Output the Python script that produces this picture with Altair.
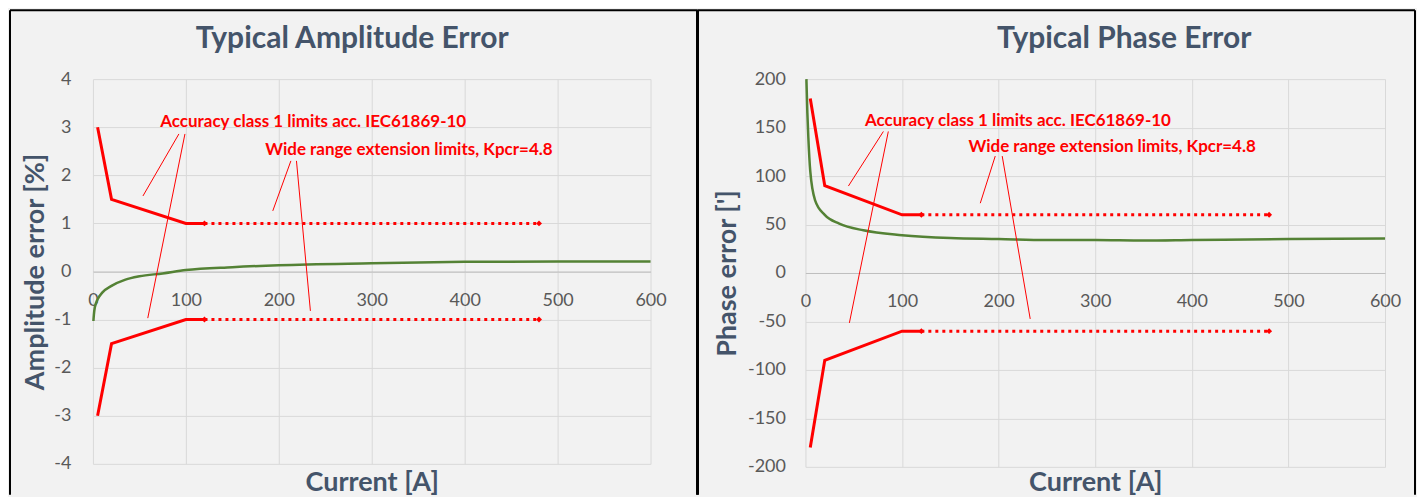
import altair as alt
import pandas as pd

FONT = "Lato"
RED = "#ff0000"
GREEN = "#548235"
TITLE_COL = "#44546a"
LABEL_COL = "#595959"

# ---------------- Amplitude panel data ----------------
amp_curve_x = [0.5, 1, 2, 5, 10, 20, 35, 50, 75, 100, 150, 200, 300, 400, 500, 600]
amp_curve_y = [-1.03, -0.9, -0.75, -0.58, -0.44, -0.3, -0.17, -0.1, -0.04, 0.03, 0.09, 0.13, 0.17, 0.2, 0.21, 0.21]
amp_limit_x = [5, 20, 100, 120]
amp_limit_y = [3, 1.5, 1, 1]
amp_ext_x = [120, 480]
amp_ext_y = [1, 1]
amp_ann_text = ["Accuracy class 1 limits acc. IEC61869-10", "Wide range extension limits, Kpcr=4.8"]
amp_ann_x = [237, 340]
amp_ann_y = [3.11, 2.52]
amp_lead_x = [92.5, 99, 213, 219]
amp_lead_y = [2.86, 2.86, 2.30, 2.30]
amp_lead_x2 = [53.8, 59, 193.5, 234]
amp_lead_y2 = [1.57, -0.97, 1.26, -0.82]
amp_y_ticks = [-4, -3, -2, -1, 0, 1, 2, 3, 4]

# ---------------- Phase panel data ----------------
ph_curve_x = [1, 2, 3, 5, 10, 20, 35, 60, 100, 150, 200, 250, 300, 350, 400, 500, 600]
ph_curve_y = [200, 165, 140, 105, 75, 60, 51, 44, 39, 36, 35, 34, 34, 33.5, 34, 35, 35.5]
ph_limit_x = [5, 20, 100, 120]
ph_limit_y = [180, 90, 60, 60]
ph_ext_x = [120, 480]
ph_ext_y = [60, 60]
ph_ann_text = ["Accuracy class 1 limits acc. IEC61869-10", "Wide range extension limits, Kpcr=4.8"]
ph_ann_x = [220, 317.5]
ph_ann_y = [157, 130]
ph_lead_x = [80.7, 85.8, 196.5, 203.7]
ph_lead_y = [146, 146, 120.6, 120.6]
ph_lead_x2 = [44.5, 45.5, 181, 232.7]
ph_lead_y2 = [89.7, -51.5, 72, -47.4]
ph_y_ticks = [-200, -150, -100, -50, 0, 50, 100, 150, 200]

x_ticks = [0, 100, 200, 300, 400, 500, 600]


def panel(curve_x, curve_y, lim_x, lim_y, ext_x, ext_y, ann_text, ann_x, ann_y,
          lead_x, lead_y, lead_x2, lead_y2, y_ticks, w, h, ytitle, title, title_cx,
          ytitle_x, ylab_pad, xtitle_y, left_bx, right_bx, right_bw):
    xs = alt.Scale(domain=[0, 600], nice=False, zero=False)
    ys = alt.Scale(domain=[y_ticks[0], y_ticks[-1]], nice=False, zero=False)

    curve = pd.DataFrame({"x": curve_x, "y": curve_y})
    lim = pd.DataFrame({
        "x": lim_x + lim_x,
        "y": lim_y + [-v for v in lim_y],
        "side": ["up"] * len(lim_x) + ["low"] * len(lim_x),
    })
    ext = pd.DataFrame({
        "x": ext_x + ext_x,
        "y": ext_y + [-v for v in ext_y],
        "side": ["up"] * len(ext_x) + ["low"] * len(ext_x),
    })
    ann = pd.DataFrame({"x": ann_x, "y": ann_y, "t": ann_text})
    lead = pd.DataFrame({"x": lead_x, "y": lead_y, "x2": lead_x2, "y2": lead_y2})
    one = pd.DataFrame({"a": [0]})
    ttl = pd.DataFrame({"t": [title]})

    x_axis = alt.Axis(
        values=x_ticks, title="Current [A]", offset=-h / 2, ticks=False, tickSize=0,
        domain=True, domainColor="#bfbfbf", domainWidth=1,
        grid=True, gridColor="#d9d9d9", gridWidth=1,
        labelFont=FONT, labelFontSize=18, labelColor=LABEL_COL, labelPadding=20,
        labelFlush=False, labelOverlap=False, labelExpr="'' + datum.value",
        titleFont=FONT, titleFontSize=27, titleFontWeight="bold", titleColor=TITLE_COL,
        titleX=w / 2, titleY=xtitle_y, titleBaseline="alphabetic", titleAlign="center",
    )
    y_axis = alt.Axis(
        values=y_ticks, title=ytitle, ticks=False, tickSize=0, domain=False,
        grid=True, gridColor="#d9d9d9", gridWidth=1,
        labelFont=FONT, labelFontSize=18, labelColor=LABEL_COL, labelPadding=ylab_pad,
        labelFlush=False, labelOverlap=False, labelExpr="'' + datum.value",
        titleFont=FONT, titleFontSize=27, titleFontWeight="bold", titleColor=TITLE_COL,
        titleX=ytitle_x, titleY=h / 2, titleBaseline="middle", titleAlign="center", titleAngle=270,
    )

    base_green = alt.Chart(curve).mark_line(color=GREEN, strokeWidth=2.5, interpolate="monotone").encode(
        x=alt.X("x:Q", scale=xs, axis=x_axis),
        y=alt.Y("y:Q", scale=ys, axis=y_axis),
    )
    lim_line = alt.Chart(lim).mark_line(color=RED, strokeWidth=3).encode(
        x=alt.X("x:Q", scale=xs), y=alt.Y("y:Q", scale=ys), detail="side:N"
    )
    ext_line = alt.Chart(ext).mark_line(color=RED, strokeWidth=3, strokeDash=[3, 4]).encode(
        x=alt.X("x:Q", scale=xs), y=alt.Y("y:Q", scale=ys), detail="side:N"
    )
    ext_pts = alt.Chart(ext).mark_point(shape="diamond", filled=True, color=RED, size=35, opacity=1).encode(
        x=alt.X("x:Q", scale=xs), y=alt.Y("y:Q", scale=ys)
    )
    leaders = alt.Chart(lead).mark_rule(color=RED, strokeWidth=1).encode(
        x=alt.X("x:Q", scale=xs), y=alt.Y("y:Q", scale=ys), x2="x2:Q", y2="y2:Q"
    )
    texts = alt.Chart(ann).mark_text(
        font=FONT, fontSize=17, fontWeight="bold", color=RED, align="center", baseline="middle"
    ).encode(x=alt.X("x:Q", scale=xs), y=alt.Y("y:Q", scale=ys), text="t:N")

    title_mark = alt.Chart(ttl).mark_text(
        font=FONT, fontSize=30, fontWeight="bold", color=TITLE_COL, align="center", baseline="alphabetic"
    ).encode(x=alt.value(title_cx), y=alt.value(-31), text="t:N")

    top_rule = alt.Chart(one).mark_rule(color="#000000", strokeWidth=2).encode(
        x=alt.value(left_bx), x2=alt.value(right_bx), y=alt.value(-69)
    )
    left_rule = alt.Chart(one).mark_rule(color="#000000", strokeWidth=2).encode(
        x=alt.value(left_bx), y=alt.value(-69), y2=alt.value(416)
    )
    right_rule = alt.Chart(one).mark_rule(color="#000000", strokeWidth=right_bw).encode(
        x=alt.value(right_bx), y=alt.value(-69), y2=alt.value(416)
    )

    return alt.layer(
        base_green, lim_line, ext_line, ext_pts, leaders, texts, title_mark,
        top_rule, left_rule, right_rule
    ).properties(width=w, height=h)


left = panel(amp_curve_x, amp_curve_y, amp_limit_x, amp_limit_y, amp_ext_x, amp_ext_y,
             amp_ann_text, amp_ann_x, amp_ann_y, amp_lead_x, amp_lead_y, amp_lead_x2, amp_lead_y2,
             amp_y_ticks, 558, 385, "Amplitude error [%]", "Typical Amplitude Error", 259.5,
             -57, 22, 219.5, -83, 605, 3)

right = panel(ph_curve_x, ph_curve_y, ph_limit_x, ph_limit_y, ph_ext_x, ph_ext_y,
              ph_ann_text, ph_ann_x, ph_ann_y, ph_lead_x, ph_lead_y, ph_lead_x2, ph_lead_y2,
              ph_y_ticks, 580, 388, "Phase error [']", "Typical Phase Error", 319,
              -78, 20, 218, -108, 610, 2)

chart = alt.hconcat(left, right, spacing=155, bounds="flush").properties(
    background="#f2f2f2", padding=0
).configure_view(stroke="transparent")

chart.save("out.html", embed_options={"renderer": "svg", "actions": False})
